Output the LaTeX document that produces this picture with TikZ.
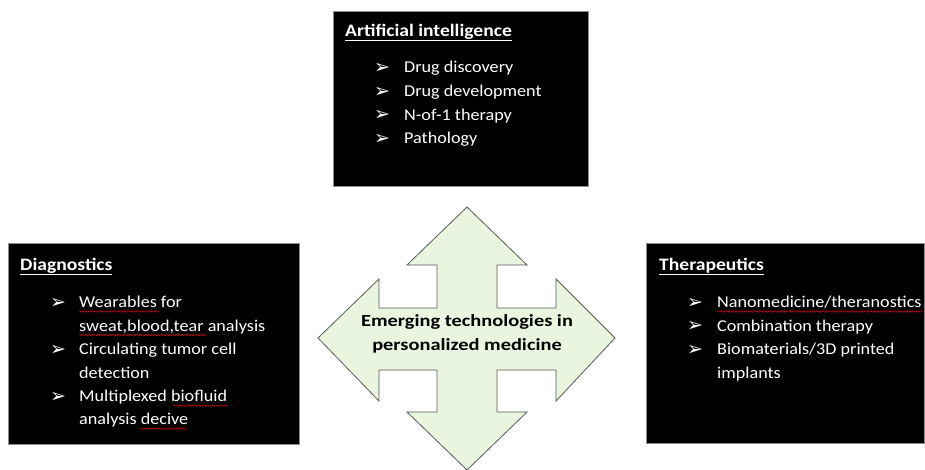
\documentclass[tikz,border=0pt]{standalone}
\usepackage{fontspec}
\setmainfont{Carlito}
\newfontfamily\itemfont{Carlito}[FakeStretch=1.1]
\newfontfamily\titlefont{Carlito}[FakeStretch=1.12]
\newfontfamily\centerfont{Carlito}[FakeStretch=1.2]
\newfontfamily\symfont{DejaVu Sans}
\usetikzlibrary{decorations.pathmorphing}
\tikzset{
  darkbox/.style={draw=black!45, line width=0.8pt, fill=black},
  title/.style={anchor=base west, inner sep=0pt, text=white, font=\titlefont\fontsize{17.5}{21}\selectfont\bfseries},
  itemtext/.style={anchor=base west, inner sep=0pt, text=white, font=\itemfont\fontsize{16.5}{20}\selectfont},
  bul/.style={anchor=base west, inner sep=0pt, text=white, font=\symfont\fontsize{19}{21}\selectfont},
  crossshape/.style={draw=black!65, line width=0.8pt, fill=green!35!olive!12!white},
  centertext/.style={align=center, text=black, font=\centerfont\fontsize{17}{23.5}\selectfont\bfseries},
  wavy/.style={draw=red!85!black, line width=0.5pt, decorate, decoration={snake, segment length=3pt, amplitude=0.7pt}}
}
\begin{document}
\begin{tikzpicture}[x=1pt,y=-1pt]
\useasboundingbox (0,0) rectangle (925,469);
% boxes
\path[darkbox] (333,11) rectangle (588,186);
\path[darkbox] (8,243) rectangle (299,444);
\path[darkbox] (646,243) rectangle (924,443);
% cross arrow
\path[crossshape] (467,207) -- (527,265) -- (497,265) -- (497,308) -- (556,308) -- (556,279)
  -- (615,338) -- (556,401) -- (556,370) -- (497,370) -- (497,412) -- (527,412)
  -- (467,470) -- (407,412) -- (437,412) -- (437,370) -- (379,370) -- (379,401)
  -- (318,338) -- (379,279) -- (379,308) -- (437,308) -- (437,265) -- (407,265) -- cycle;
\node[centertext] (center) at (467,334) {Emerging technologies in\\personalized medicine};
% top box
\node[title] (ai) at (345,36) {\underline{Artificial intelligence}};
\node[bul] (b1) at (374,73) {➢};
\node[itemtext] (t1) at (404,72.5) {Drug discovery};
\node[bul] (b2) at (374,97) {➢};
\node[itemtext] (t2) at (404,96.5) {Drug development};
\node[bul] (b3) at (374,120.5) {➢};
\node[itemtext] (t3) at (404,120) {N-of-1 therapy};
\node[bul] (b4) at (374,144) {➢};
\node[itemtext] (t4) at (404,143.5) {Pathology};
% left box
\node[title] (dg) at (20,270) {\underline{Diagnostics}};
\node[bul] (d1) at (50,308) {➢};
\node[itemtext] (dt1) at (79,307.5) {Wearables for};
\node[itemtext] (dt1b) at (79,331) {sweat,blood,tear analysis};
\node[bul] (d2) at (50,355) {➢};
\node[itemtext] (dt2) at (79,354.5) {Circulating tumor cell};
\node[itemtext] (dt2b) at (79,378) {detection};
\node[bul] (d3) at (50,402) {➢};
\node[itemtext] (dt3) at (79,401.5) {Multiplexed biofluid};
\node[itemtext] (dt3b) at (79,424.5) {analysis decive};
% right box
\node[title] (th) at (659,270) {\underline{Therapeutics}};
\node[bul] (r1) at (687,308) {➢};
\node[itemtext] (rt1) at (717,307.5) {Nanomedicine/theranostics};
\node[bul] (r2) at (687,331.5) {➢};
\node[itemtext] (rt2) at (717,331) {Combination therapy};
\node[bul] (r3) at (687,355) {➢};
\node[itemtext] (rt3) at (717,354.5) {Biomaterials/3D printed};
\node[itemtext] (rt3b) at (717,378) {implants};
% spell-check wavy underlines
\draw[wavy] (79,311.5) -- (159,311.5);
\draw[wavy] (79,335) -- (206,335);
\draw[wavy] (173,405.5) -- (228,405.5);
\draw[wavy] (140,428.5) -- (187,428.5);
\draw[wavy] (717,311.5) -- (922,311.5);
\end{tikzpicture}
\end{document}
